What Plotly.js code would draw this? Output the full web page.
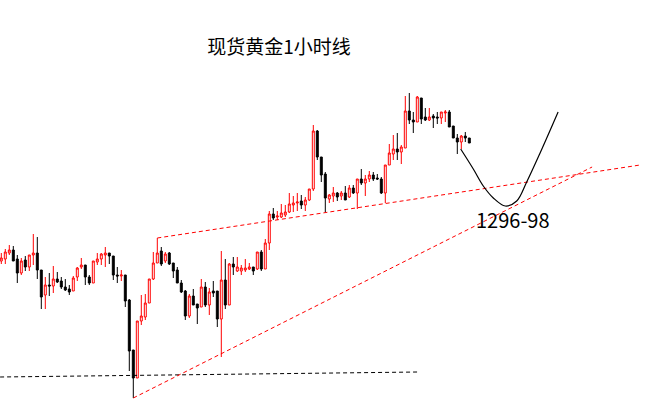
<!DOCTYPE html>
<html>
<head>
<meta charset="utf-8">
<script src="https://cdn.plot.ly/plotly-3.0.1.min.js"></script>
<style>html,body{margin:0;padding:0;background:#fff;}#chart{width:662px;height:413px;}</style>
</head>
<body>
<div id="chart"></div>
<script>
// Hourly spot gold candles (price)
const openP = [1291.9,1292.1,1292.7,1293.0,1292.1,1290.7,1292.0,1291.3,1292.5,1292.7,
1291.0,1288.5,1289.5,1289.4,1290.1,1289.9,1289.3,1289.1,1288.9,1290.3,
1291.3,1291.5,1290.3,1289.7,1291.8,1292.1,1292.5,1292.7,1292.4,1290.5,
1290.4,1290.5,1288.0,1283.0,1280.2,1285.9,1286.3,1287.7,1290.1,1291.7,
1292.9,1291.9,1292.7,1291.7,1291.0,1289.7,1288.9,1286.4,1288.4,1287.6,
1287.3,1289.3,1287.5,1288.9,1288.9,1286.1,1290.0,1287.5,1291.6,1290.9,
1290.9,1291.0,1291.1,1291.3,1291.1,1292.8,1291.1,1293.7,1296.6,1296.3,
1296.3,1296.5,1296.8,1297.5,1297.7,1297.9,1297.5,1298.0,1299.1,1304.9,
1302.3,1300.6,1298.1,1298.4,1298.7,1298.4,1298.7,1298.3,1299.2,1298.7,
1300.1,1299.7,1300.1,1300.5,1300.2,1300.1,1298.7,1301.5,1302.6,1303.1,
1302.8,1303.2,1306.9,1306.0,1305.8,1308.2,1306.3,1306.0,1306.4,1306.3,
1306.2,1306.7,1306.8,1305.4,1304.2,1303.8,1304.4,1304.2];
const highP = [1292.7,1293.1,1293.5,1293.4,1292.5,1292.2,1292.4,1292.5,1294.6,1294.3,
1291.0,1290.3,1290.7,1291.4,1290.8,1290.3,1290.1,1289.5,1290.4,1291.3,
1292.2,1291.5,1290.5,1291.9,1292.7,1292.7,1293.3,1292.7,1292.4,1291.3,
1291.0,1290.5,1288.1,1283.0,1285.9,1288.5,1288.6,1290.1,1292.8,1294.2,
1293.3,1292.8,1292.8,1291.7,1291.3,1290.0,1289.0,1288.6,1289.1,1287.6,
1290.1,1289.8,1289.2,1289.9,1288.9,1292.9,1292.1,1291.7,1292.3,1292.3,
1291.5,1292.1,1291.7,1291.3,1292.8,1293.0,1294.1,1296.9,1297.2,1296.9,
1297.6,1297.5,1298.7,1298.4,1298.7,1298.5,1298.3,1299.1,1305.5,1305.0,
1302.3,1300.8,1298.6,1299.3,1298.8,1298.9,1299.4,1299.5,1299.5,1300.1,
1301.1,1300.5,1300.9,1300.8,1300.6,1300.3,1301.5,1303.6,1304.5,1304.7,
1303.5,1308.4,1308.7,1306.8,1308.4,1308.2,1307.2,1307.2,1306.6,1306.8,
1306.8,1307.0,1307.0,1305.4,1304.6,1304.5,1304.8,1304.2];
const lowP = [1291.6,1291.6,1292.5,1291.9,1289.7,1290.5,1290.9,1290.9,1291.5,1290.1,
1287.1,1287.1,1288.4,1288.7,1289.7,1289.1,1288.9,1288.5,1288.9,1289.9,
1291.1,1289.5,1289.5,1289.7,1291.5,1291.5,1291.3,1291.6,1290.0,1289.7,
1289.9,1287.3,1280.9,1278.2,1280.2,1285.5,1286.0,1287.7,1290.0,1291.7,
1291.4,1291.7,1291.5,1290.2,1289.7,1288.7,1286.0,1286.2,1287.5,1285.6,
1287.3,1287.3,1286.5,1288.3,1285.3,1282.3,1287.1,1287.5,1290.5,1290.8,
1290.5,1290.8,1291.0,1290.5,1291.0,1290.9,1291.1,1293.0,1296.0,1296.0,
1296.2,1296.3,1296.7,1296.8,1296.9,1297.1,1296.9,1297.9,1298.9,1302.0,
1299.8,1296.8,1297.7,1297.8,1297.9,1298.0,1298.0,1298.2,1298.6,1297.1,
1299.5,1298.4,1299.8,1299.9,1300.0,1298.6,1297.7,1301.5,1302.0,1302.0,
1301.6,1303.2,1305.6,1304.7,1305.8,1305.6,1305.9,1305.9,1305.2,1305.6,
1305.6,1305.8,1305.3,1304.2,1302.6,1303.1,1303.8,1303.7];
const closeP = [1292.2,1292.8,1293.0,1291.9,1290.7,1291.9,1291.3,1292.5,1292.7,1291.0,
1288.3,1289.5,1289.4,1290.1,1289.8,1289.3,1289.0,1288.8,1290.2,1291.2,
1291.5,1290.3,1289.7,1291.9,1292.1,1292.6,1292.7,1292.4,1290.5,1290.4,
1290.5,1287.9,1282.9,1280.2,1285.9,1286.4,1287.7,1290.1,1291.7,1292.7,
1291.6,1292.6,1291.6,1290.9,1289.7,1288.8,1286.4,1288.4,1287.5,1287.2,
1289.3,1287.5,1288.8,1288.7,1286.1,1290.0,1287.5,1291.6,1291.3,1291.3,
1291.2,1291.2,1291.3,1290.9,1292.8,1291.1,1293.7,1296.6,1296.2,1296.4,
1296.7,1296.8,1297.6,1297.7,1297.8,1297.5,1298.0,1299.1,1304.9,1302.3,
1300.5,1298.2,1298.5,1298.7,1298.3,1298.7,1298.0,1299.2,1298.7,1300.1,
1299.7,1300.1,1300.5,1300.1,1300.1,1298.7,1301.5,1302.7,1303.1,1302.8,
1303.3,1306.9,1306.0,1305.8,1308.3,1306.1,1306.0,1306.3,1306.2,1306.2,
1306.8,1306.8,1305.3,1304.2,1303.8,1304.4,1304.2,1303.7];

// Hand-drawn analysis lines (candle index, price)
const supportLineX = [-0.3, 104.2];
const supportLineY = [1280.3, 1280.8];
const upperTrendX = [39.0, 159.7];
const upperTrendY = [1294.2, 1301.5];
const lowerTrendX = [33.0, 147.7];
const lowerTrendY = [1278.2, 1301.3];
const pathX = [114.85, 118.0, 120.5, 123.0, 126.0, 128.85, 131.35, 134.7, 139.2];
const pathY = [1303.1, 1301.1, 1299.4, 1298.2, 1297.4, 1297.9, 1299.8, 1302.7, 1306.8];
const targetLabel = "1296-98";
const targetPos = [127.9, 1296.1];
const titleText = "现货黄金1小时线";

const idx = openP.map((_, i) => i);

const traces = [
  {
    type: 'candlestick', x: idx, open: openP, high: highP, low: lowP, close: closeP,
    increasing: {line: {color: '#ff0000', width: 1}, fillcolor: '#ffffff'},
    decreasing: {line: {color: '#000000', width: 1}, fillcolor: '#000000'},
    whiskerwidth: 0, hoverinfo: 'skip'
  },
  {type: 'scatter', mode: 'lines', x: supportLineX, y: supportLineY,
   line: {color: '#000000', width: 1, dash: '4px,3px'}, hoverinfo: 'skip'},
  {type: 'scatter', mode: 'lines', x: upperTrendX, y: upperTrendY,
   line: {color: '#ff0000', width: 1, dash: '4px,3px'}, hoverinfo: 'skip'},
  {type: 'scatter', mode: 'lines', x: lowerTrendX, y: lowerTrendY,
   line: {color: '#ff0000', width: 1, dash: '4px,3px'}, hoverinfo: 'skip'},
  {type: 'scatter', mode: 'lines', x: pathX, y: pathY,
   line: {color: '#000000', width: 1.2, shape: 'spline', smoothing: 1}, hoverinfo: 'skip'}
];

const layout = {
  width: 662, height: 413,
  margin: {l: 0, r: 0, t: 0, b: 0},
  paper_bgcolor: '#ffffff', plot_bgcolor: '#ffffff',
  showlegend: false,
  boxgap: 0.3,
  title: {text: titleText, x: 279/662, xanchor: 'center', y: 1 - 47/413, yanchor: 'middle',
          font: {family: '"Noto Sans CJK SC", sans-serif', size: 19, color: '#000000'}},
  xaxis: {visible: false, range: [-0.325, 165.175], rangeslider: {visible: false}, fixedrange: true},
  yaxis: {visible: false, range: [1276.7, 1318.0], fixedrange: true},
  annotations: [{
    x: targetPos[0], y: targetPos[1], xref: 'x', yref: 'y', text: targetLabel, showarrow: false,
    xanchor: 'center', yanchor: 'middle',
    font: {family: '"Noto Sans CJK SC", sans-serif', size: 20, color: '#000000'}
  }]
};

Plotly.newPlot('chart', traces, layout, {displayModeBar: false, staticPlot: true});
</script>
</body>
</html>
